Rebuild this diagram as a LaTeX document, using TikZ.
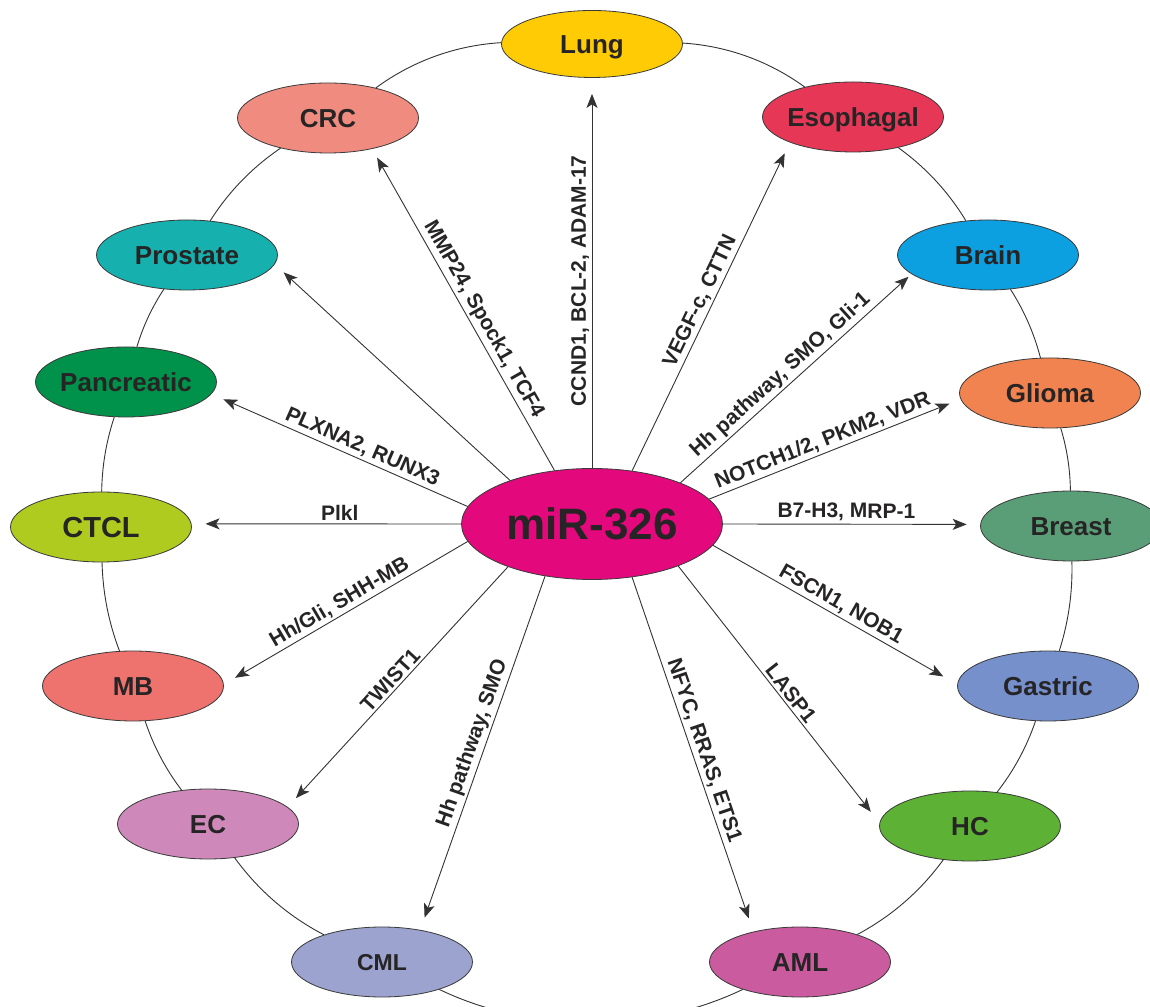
\documentclass[tikz,border=0pt]{standalone}
\usepackage{fontspec}
\setmainfont{Liberation Sans}
\usetikzlibrary{shapes.geometric,arrows.meta}
\definecolor{txt}{HTML}{262424}
\definecolor{edge}{HTML}{3A3A3A}
\definecolor{ln}{HTML}{333333}
\definecolor{cLung}{HTML}{FFCB05}
\definecolor{cEso}{HTML}{E63756}
\definecolor{cBrain}{HTML}{0DA0E0}
\definecolor{cGlioma}{HTML}{F0834F}
\definecolor{cBreast}{HTML}{5A9E78}
\definecolor{cGastric}{HTML}{7590CB}
\definecolor{cHC}{HTML}{5DB134}
\definecolor{cAML}{HTML}{C95B9E}
\definecolor{cCML}{HTML}{9BA3CE}
\definecolor{cEC}{HTML}{CE89BA}
\definecolor{cMB}{HTML}{EE736F}
\definecolor{cCTCL}{HTML}{B0CB1F}
\definecolor{cPanc}{HTML}{00914A}
\definecolor{cPros}{HTML}{16B1AE}
\definecolor{cCRC}{HTML}{F08B80}
\definecolor{cMir}{HTML}{E4087D}
\begin{document}
\begin{tikzpicture}[x=1pt,y=1pt,
  organ/.style={ellipse, draw=edge, line width=0.8pt, minimum width=181pt, minimum height=70pt,
    inner sep=0pt, text=txt, font=\bfseries\fontsize{26}{30}\selectfont, text height=18.6pt, text depth=0pt},
  hub/.style={ellipse, draw=edge, line width=0.8pt, fill=cMir, minimum width=261pt, minimum height=111pt,
    inner sep=0pt, text=txt, font=\bfseries\fontsize{44}{50}\selectfont, text height=31.5pt, text depth=0pt},
  arr/.style={draw=ln, line width=0.9pt, -{Stealth[length=14pt,width=11pt,inset=3.5pt]}},
  ring/.style={draw=ln, line width=0.9pt, looseness=0.87},
  lbl/.style={text=txt, font=\bfseries\fontsize{21}{24}\selectfont, inner sep=2.5pt, sloped, above}
]
\useasboundingbox (0,0) rectangle (1150,1006);
\fill[white] (0,0) rectangle (1150,1006);
\clip (0,0) rectangle (1150,1006);

% nodes
\node[hub] (mir) at (592,482) {\makebox[0pt]{miR-326}};
\node[organ, fill=cLung, minimum height=67pt] (lung) at (592,962) {\makebox[0pt]{Lung}};
\node[organ, fill=cEso] (eso) at (853,889) {\makebox[0pt]{Esophagal}};
\node[organ, fill=cBrain] (brain) at (988,751) {\makebox[0pt]{Brain}};
\node[organ, fill=cGlioma] (glioma) at (1050,613) {\makebox[0pt]{Glioma}};
\node[organ, fill=cBreast] (breast) at (1071,480) {\makebox[0pt]{Breast}};
\node[organ, fill=cGastric] (gastric) at (1048,320) {\makebox[0pt]{Gastric}};
\node[organ, fill=cHC] (hc) at (970,180) {\makebox[0pt]{HC}};
\node[organ, fill=cAML] (aml) at (800,44) {\makebox[0pt]{AML}};
\node[organ, fill=cCML, font=\bfseries\fontsize{23}{27}\selectfont, text height=16.5pt] (cml) at (382,44) {\makebox[0pt]{CML}};
\node[organ, fill=cEC] (ec) at (208,182) {\makebox[0pt]{EC}};
\node[organ, fill=cMB] (mb) at (133,320) {\makebox[0pt]{MB}};
\node[organ, fill=cCTCL, font=\bfseries\fontsize{29}{33}\selectfont, text height=20.8pt] (ctcl) at (101,479) {\makebox[0pt]{CTCL}};
\node[organ, fill=cPanc] (panc) at (126,624) {\makebox[0pt]{Pancreatic}};
\node[organ, fill=cPros] (prostate) at (187,751) {\makebox[0pt]{Prostate}};
\node[organ, fill=cCRC] (crc) at (328,888) {\makebox[0pt]{CRC}};

% outer ring
\draw[ring] (lung) to[bend left=16.2] (eso);
\draw[ring] (eso) to[bend left=11.5] (brain);
\draw[ring] (brain) to[bend left=9] (glioma);
\draw[ring] (glioma) to[bend left=8] (breast);
\draw[ring] (breast) to[bend left=9.6] (gastric);
\draw[ring] (gastric) to[bend left=9.5] (hc);
\draw[ring] (hc) to[bend left=13] (aml);
\draw[ring] (aml) to[bend left=25.6] (cml);
\draw[ring] (cml) to[bend left=13.3] (ec);
\draw[ring] (ec) to[bend left=9.4] (mb);
\draw[ring] (mb) to[bend left=9.7] (ctcl);
\draw[ring] (ctcl) to[bend left=8.7] (panc);
\draw[ring] (panc) to[bend left=8.4] (prostate);
\draw[ring] (prostate) to[bend left=11.7] (crc);
\draw[ring] (crc) to[bend left=16.5] (lung);

% arrows
\draw[arr, shorten >=16pt] (mir.north) -- node[lbl,pos=0.48]{CCND1, BCL-2, ADAM-17} (lung.south);
\draw[arr, shorten >=12pt] (mir.53) -- node[lbl,pos=0.5]{VEGF-c, CTTN} (eso.202);
\draw[arr, shorten >=10pt] (mir.125) -- node[lbl,pos=0.45]{MMP24, Spock1, TCF4} (crc.325);
\draw[arr, shorten >=12pt] (mir.152) -- (prostate.354);
\draw[arr, shorten >=13pt] (mir.172) -- node[lbl,pos=0.43]{PLXNA2, RUNX3} (panc.352);
\draw[arr, shorten >=14pt] (mir.west) -- node[lbl,pos=0.45]{Plkl} (ctcl.2);
\draw[arr, shorten >=13pt] (mir.188) -- node[lbl,pos=0.5]{Hh/Gli, SHH-MB} (mb.1);
\draw[arr, shorten >=12pt] (mir.207) -- node[lbl,pos=0.5]{TWIST1} (ec.12);
\draw[arr, shorten >=13pt] (mir.228) -- node[lbl,pos=0.485]{Hh pathway, SMO} (cml.40);
\draw[arr, shorten >=14pt] (mir.307) -- node[lbl,pos=0.5]{NFYC, RRAS, ETS1} (aml.147);
\draw[arr, shorten >=14pt] (mir.334) -- node[lbl,pos=0.52]{LASP1} (hc.178);
\draw[arr, shorten >=16pt] (mir.350) -- node[lbl,pos=0.5]{FSCN1, NOB1} (gastric.179);
\draw[arr, shorten >=13.5pt] (mir.east) -- node[lbl,pos=0.48]{B7-H3, MRP-1} (breast.179);
\draw[arr, shorten >=12pt] (mir.12) -- node[lbl,pos=0.47]{NOTCH1/2, PKM2, VDR} (glioma.184);
\draw[arr, shorten >=4pt] (mir.25) -- node[lbl,pos=0.47]{Hh pathway, SMO, Gli-1} (brain.194);
\end{tikzpicture}
\end{document}
